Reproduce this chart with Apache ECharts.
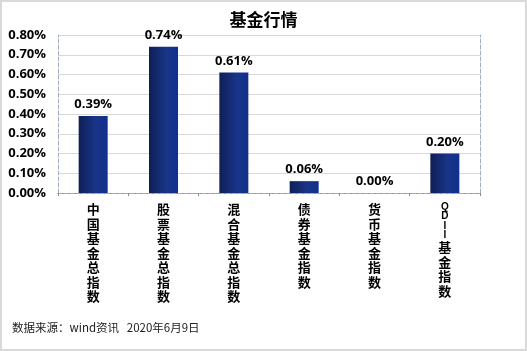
<!DOCTYPE html>
<html>
<head>
<meta charset="utf-8">
<script src="https://cdn.jsdelivr.net/npm/echarts@6/dist/echarts.min.js"></script>
<style>
  html, body { margin: 0; padding: 0; background: #fff; }
  #chart {
    width: 523px;
    height: 347px;
    border: 2px solid #d9d9d9;
  }
</style>
</head>
<body>
<div id="chart"></div>
<script>
// 基金行情 (%)
const categories = ['中国基金总指数', '股票基金总指数', '混合基金总指数', '债券基金指数', '货币基金指数', 'QDII基金指数'];
const values = [0.39, 0.74, 0.61, 0.06, 0.00, 0.20];
const yTicks = [0, 0.1, 0.2, 0.3, 0.4, 0.5, 0.6, 0.7, 0.8];

const chart = echarts.init(document.getElementById('chart'));

// stack each character vertically, latin letters get a tighter line
function verticalLabel (name) {
  return name.split('').map(function (ch) {
    return /[A-Za-z]/.test(ch) ? '{l|' + ch + '}' : '{c|' + ch + '}';
  }).join('\n');
}

const option = {
  animation: false,
  title: {
    text: '基金行情',
    left: 'center',
    top: 4,
    textStyle: {
      fontFamily: 'Noto Sans CJK SC',
      fontSize: 17,
      fontWeight: 'bold',
      color: '#000'
    }
  },
  graphic: [{
    type: 'text',
    left: 10,
    top: 320,
    style: {
      text: '数据来源：wind资讯   2020年6月9日',
      font: '11.5px "Noto Sans CJK SC"',
      fill: '#222'
    }
  }],
  grid: {
    left: 56,
    right: 45,
    top: 33,
    bottom: 156
  },
  xAxis: [{
    type: 'category',
    data: categories,
    axisLine: { lineStyle: { color: '#8c8c8c', width: 1 } },
    axisTick: { show: true, length: 3, lineStyle: { color: '#8c8c8c' } },
    axisLabel: {
      interval: 0,
      margin: 9,
      formatter: verticalLabel,
      rich: {
        c: { fontFamily: 'Noto Sans CJK SC', fontSize: 13, fontWeight: 'bold', lineHeight: 14.5, color: '#000' },
        l: { fontFamily: 'Liberation Sans', fontSize: 10, fontWeight: 'bold', lineHeight: 9.5, color: '#000' }
      }
    }
  }, {
    type: 'category',
    position: 'top',
    data: categories,
    axisLine: { lineStyle: { color: '#a3aec0', type: 'dashed' } },
    axisTick: { show: false },
    axisLabel: { show: false }
  }],
  yAxis: [{
    type: 'value',
    min: 0,
    max: 0.8,
    interval: 0.1,
    axisLine: { show: true, lineStyle: { color: '#a3aec0', type: 'dashed' } },
    axisTick: { show: false },
    splitLine: { lineStyle: { color: '#d9d9d9' } },
    axisLabel: {
      margin: 12,
      fontFamily: 'Open Sans',
      fontSize: 13,
      fontWeight: 'bold',
      color: '#000',
      formatter: function (v) { return v.toFixed(2) + '%'; }
    }
  }, {
    type: 'value',
    position: 'right',
    min: 0,
    max: 0.8,
    interval: 0.1,
    axisLine: { show: true, lineStyle: { color: '#a3aec0', type: 'dashed' } },
    axisTick: { show: false },
    splitLine: { show: false },
    axisLabel: { show: false }
  }],
  series: [{
    type: 'bar',
    data: values,
    barWidth: 29,
    itemStyle: {
      color: new echarts.graphic.LinearGradient(0, 0, 1, 0, [
        { offset: 0, color: '#0e1f57' },
        { offset: 0.6, color: '#1a3588' },
        { offset: 1, color: '#10308e' }
      ])
    },
    label: {
      show: true,
      position: 'top',
      distance: 5,
      fontFamily: 'Open Sans',
      fontSize: 13,
      fontWeight: 'bold',
      color: '#000',
      formatter: function (p) { return p.value.toFixed(2) + '%'; }
    }
  }]
};

chart.setOption(option);
</script>
</body>
</html>
